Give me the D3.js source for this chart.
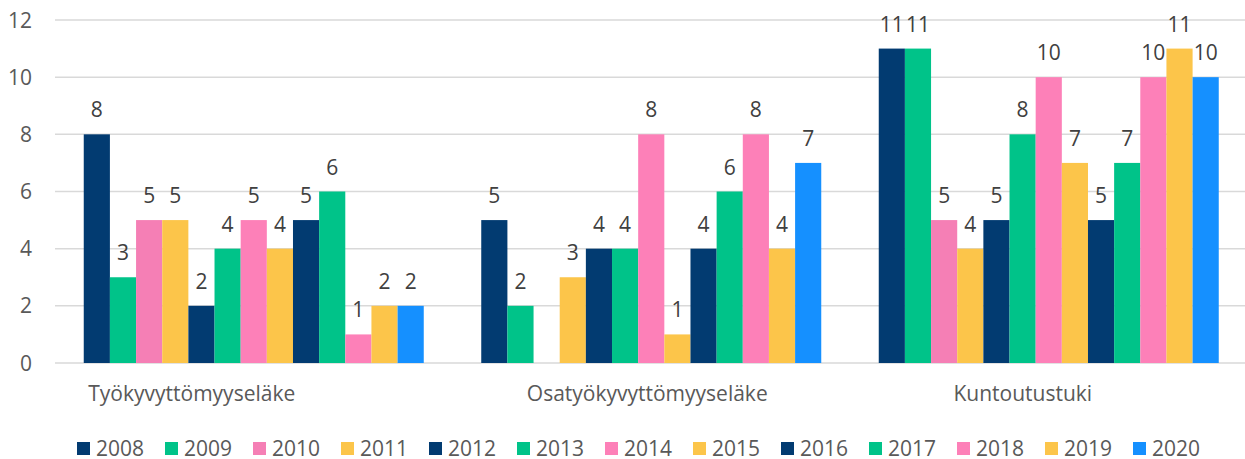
<!DOCTYPE html>
<meta charset="utf-8">
<style>
    body { margin: 0; background: #fff; }
    text { font-family: "Open Sans", "Noto Sans", sans-serif; font-size: 21px; }
    .grid line { stroke: #d9d9d9; stroke-width: 1.5px; }
    .yAxis text { fill: #595959; }
    .catLabel { fill: #595959; }
    .valLabel { fill: #404040; }
    .legend text { fill: #595959; }
</style>
<body>
<svg width="1245" height="459"></svg>
</body>
<script src="https://d3js.org/d3.v7.min.js"></script>
<script>

    // categories and years
    var categories = ["Työkyvyttömyyseläke", "Osatyökyvyttömyyseläke", "Kuntoutustuki"];
    var years = ["2008", "2009", "2010", "2011", "2012", "2013", "2014", "2015", "2016", "2017", "2018", "2019", "2020"];

    // values per category, one per year (null = no bar)
    var tyokyvyttomyys = [8, 3, 5, 5, 2, 4, 5, 4, 5, 6, 1, 2, 2];
    var osatyokyvyttomyys = [5, 2, null, 3, 4, 4, 8, 1, 4, 6, 8, 4, 7];
    var kuntoutustuki = [11, 11, 5, 4, 5, 8, 10, 7, 5, 7, 10, 11, 10];

    var yTicks = [0, 2, 4, 6, 8, 10, 12];

    var seriesColors = ["#023b71", "#00c389", "#f57fb5", "#fcc54a",
                        "#023b71", "#00c389", "#fd80b8", "#fcc54a",
                        "#023b71", "#00c389", "#fd80b8", "#fcc54a", "#1590ff"];

    var values = [tyokyvyttomyys, osatyokyvyttomyys, kuntoutustuki];

    var svg = d3.select("svg");

    var plotLeft = 55, plotRight = 1247.5, plotTop = 20, plotBottom = 363;

    var y = d3.scaleLinear().domain([0, 12]).range([plotBottom, plotTop]);

    var pad = 57.5 / 397.5;
    var x0 = d3.scaleBand()
            .domain(categories)
            .range([plotLeft, plotRight])
            .paddingInner(pad)
            .paddingOuter(pad / 2);

    var x1 = d3.scaleBand()
            .domain(years)
            .range([0, x0.bandwidth()]);

    // gridlines
    svg.append("g")
            .attr("class", "grid")
            .selectAll("line")
            .data(yTicks)
            .enter().append("line")
            .attr("x1", plotLeft)
            .attr("x2", 1245)
            .attr("y1", function (d) { return y(d); })
            .attr("y2", function (d) { return y(d); });

    // y axis labels
    svg.append("g")
            .attr("class", "yAxis")
            .selectAll("text")
            .data(yTicks)
            .enter().append("text")
            .attr("x", 32)
            .attr("y", function (d) { return y(d); })
            .attr("dy", "0.36em")
            .style("text-anchor", "end")
            .text(function (d) { return d; });

    // bars
    var groups = svg.append("g")
            .selectAll("g")
            .data(categories)
            .enter().append("g")
            .attr("transform", function (d) { return "translate(" + x0(d) + ",0)"; });

    var cells = function (c, i) {
        return years.map(function (yr, j) {
            return { year: yr, value: values[i][j], color: seriesColors[j] };
        }).filter(function (d) { return d.value != null; });
    };

    groups.selectAll("rect")
            .data(cells)
            .enter().append("rect")
            .attr("x", function (d) { return x1(d.year); })
            .attr("width", x1.bandwidth())
            .attr("y", function (d) { return y(d.value); })
            .attr("height", function (d) { return y(0) - y(d.value); })
            .style("fill", function (d) { return d.color; });

    groups.selectAll(".valLabel")
            .data(cells)
            .enter().append("text")
            .attr("class", "valLabel")
            .attr("x", function (d) { return x1(d.year) + x1.bandwidth() / 2; })
            .attr("y", function (d) { return y(d.value) - 17; })
            .style("text-anchor", "middle")
            .text(function (d) { return d.value; });

    // category labels (Excel places them a bit off-center)
    var labelShift = [-62, -4, -26];
    svg.append("g")
            .selectAll("text")
            .data(categories)
            .enter().append("text")
            .attr("class", "catLabel")
            .attr("x", function (d, i) { return x0(d) + x0.bandwidth() / 2 + labelShift[i]; })
            .attr("y", 401)
            .style("text-anchor", "middle")
            .text(function (d) { return d; });

    // legend
    var legend = svg.append("g")
            .attr("class", "legend")
            .selectAll("g")
            .data(years)
            .enter().append("g")
            .attr("transform", function (d, i) { return "translate(" + (77 + i * 88) + ",442)"; });

    legend.append("rect")
            .attr("width", 13)
            .attr("height", 13)
            .style("fill", function (d, i) { return seriesColors[i]; });

    legend.append("text")
            .attr("x", 19)
            .attr("y", 14)
            .text(function (d) { return d; });

</script>
